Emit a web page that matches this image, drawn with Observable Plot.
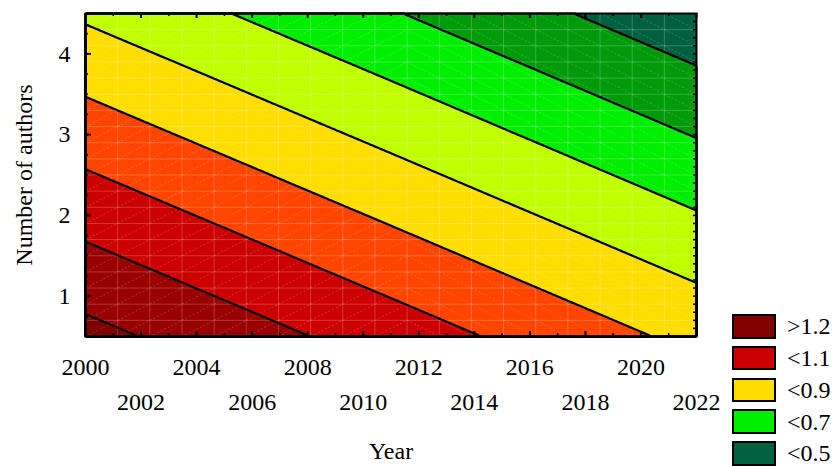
<!DOCTYPE html>
<html>
<head>
<meta charset="utf-8">
<script src="https://cdn.jsdelivr.net/npm/d3@7"></script>
<script src="https://cdn.jsdelivr.net/npm/@observablehq/plot@0.6"></script>
<style>
  body { margin: 0; background: #fff; }
  #wrap { position: relative; width: 838px; height: 466px; font-family: "Liberation Serif", serif; }
  #legend { position: absolute; left: 732px; top: 314px; }
  .item { display: flex; align-items: center; height: 24.5px; margin-bottom: 7.3px; }
  .sw { width: 44px; height: 24.5px; box-sizing: border-box; border: 2px solid #000; }
  .lb { margin-left: 11px; font-size: 24px; line-height: 24px; color: #000; }
</style>
</head>
<body>
<div id="wrap"></div>
<script>
// Surface samples (value at year × authors)
const sampleYears = [2000, 2011, 2022];
const sampleAuthors = [0.5, 2.5, 4.5];
const sampleValues = [
  [1.231, 1.053, 0.874],   // authors 0.5
  [1.008, 0.830, 0.651],   // authors 2.5
  [0.785, 0.607, 0.428]    // authors 4.5
];
// Contour levels and band colours (lowest band first)
const levels = [0.5, 0.6, 0.7, 0.8, 0.9, 1.0, 1.1, 1.2];
const bandColors = ["#006040", "#009a0a", "#00ee00", "#bfff00", "#ffdd00", "#ff4500", "#cc0000", "#990000", "#800000"];
// Legend
const legendLabels = [">1.2", "<1.1", "<0.9", "<0.7", "<0.5"];
const legendColors = ["#800000", "#cc0000", "#ffdd00", "#00ee00", "#006040"];
// Tick labels
const xTicksRow1 = [2000, 2004, 2008, 2012, 2016, 2020];
const xTicksRow2 = [2002, 2006, 2010, 2014, 2018, 2022];
const yTickLabels = [1, 2, 3, 4];

const samples = [];
sampleAuthors.forEach((a, j) => sampleYears.forEach((yr, i) => samples.push({year: yr, authors: a, z: sampleValues[j][i]})));

// surface mesh (decoration)
const meshX = d3.range(20).map(k => 2000 + k * 22 / 19);
const meshY = d3.range(21).map(j => 0.5 + j * 0.2);
const diags = [];
for (let k = 0; k < 19; k++) for (let j = 0; j < 20; j++) {
  if (k < 10) diags.push({x1: meshX[k], y1: meshY[j], x2: meshX[k + 1], y2: meshY[j + 1]});
  else diags.push({x1: meshX[k], y1: meshY[j + 1], x2: meshX[k + 1], y2: meshY[j]});
}

const frameH = 323, frameW = 611;
const font = {fontSize: 24};

const chart = Plot.plot({
  width: 838,
  height: 466,
  marginLeft: 85,
  marginRight: 142,
  marginTop: 13,
  marginBottom: 130,
  style: {fontFamily: "Liberation Serif, serif", fontSize: "24px", color: "#000", background: "#fff"},
  x: {domain: [2000, 2022]},
  y: {domain: [0.5, 4.5]},
  color: {type: "threshold", domain: levels, range: bandColors},
  marks: [
    Plot.contour(samples, {
      x: "year", y: "authors", fill: "z",
      interpolate: "barycentric",
      x1: 2000, x2: 2022, y1: 0.5, y2: 4.5,
      thresholds: [0.2, ...levels],
      stroke: "none"
    }),
    Plot.ruleX(meshX.slice(1), {stroke: "white", strokeOpacity: 0.22, strokeWidth: 1}),
    Plot.ruleY(meshY.slice(1), {stroke: "white", strokeOpacity: 0.22, strokeWidth: 1}),
    Plot.link(diags, {x1: "x1", y1: "y1", x2: "x2", y2: "y2", stroke: "white", strokeOpacity: 0.2, strokeWidth: 1, strokeDasharray: "2,2"}),
    Plot.contour(samples, {
      x: "year", y: "authors", value: "z",
      interpolate: "barycentric",
      x1: 2000, x2: 2022, y1: 0.5, y2: 4.5,
      thresholds: levels,
      fill: "none", stroke: "black", strokeWidth: 2.2
    }),
    // inward ticks
    Plot.tickX(d3.range(2000, 2023, 2), {x: d => d, stroke: "black", strokeWidth: 2, insetTop: frameH - 5}),
    Plot.tickX(d3.range(2001, 2023, 2), {x: d => d, stroke: "black", strokeWidth: 1.5, insetTop: frameH - 3}),
    Plot.tickX(d3.range(2000, 2023, 2), {x: d => d, stroke: "black", strokeWidth: 2, insetBottom: frameH - 5}),
    Plot.tickX(d3.range(2001, 2023, 2), {x: d => d, stroke: "black", strokeWidth: 1.5, insetBottom: frameH - 3}),
    Plot.tickY(yTickLabels, {y: d => d, stroke: "black", strokeWidth: 2, insetRight: frameW - 6}),
    Plot.tickY(d3.range(0.75, 4.5, 0.25), {y: d => d, stroke: "black", strokeWidth: 1.5, insetRight: frameW - 3}),
    Plot.tickY(d3.range(6, 45).map(d => d / 10), {y: d => d, stroke: "black", strokeWidth: 1.5, insetLeft: frameW - 3}),
    Plot.frame({stroke: "black", strokeWidth: 2}),
    // axes labels
    Plot.axisX(xTicksRow1, {anchor: "bottom", tickSize: 0, tickPadding: 21, tickFormat: "d", label: null, ...font}),
    Plot.axisX(xTicksRow2, {anchor: "bottom", tickSize: 0, tickPadding: 56, tickFormat: "d", label: null, ...font}),
    Plot.axisY(yTickLabels, {anchor: "left", tickSize: 0, tickPadding: 15, tickFormat: "d", label: null, ...font}),
    Plot.text(["Number of authors"], {frameAnchor: "left", dx: -61, rotate: -90, textAnchor: "middle", lineAnchor: "middle", fill: "black", ...font}),
    Plot.text(["Year"], {frameAnchor: "bottom", dy: 115, textAnchor: "middle", lineAnchor: "middle", fill: "black", ...font})
  ]
});

const wrap = document.getElementById("wrap");
wrap.appendChild(chart);
const legend = document.createElement("div");
legend.id = "legend";
legendLabels.forEach((t, i) => {
  const it = document.createElement("div");
  it.className = "item";
  const sw = document.createElement("div");
  sw.className = "sw";
  sw.style.background = legendColors[i];
  const lb = document.createElement("span");
  lb.className = "lb";
  lb.textContent = t;
  it.appendChild(sw); it.appendChild(lb);
  legend.appendChild(it);
});
wrap.appendChild(legend);
</script>
</body>
</html>
